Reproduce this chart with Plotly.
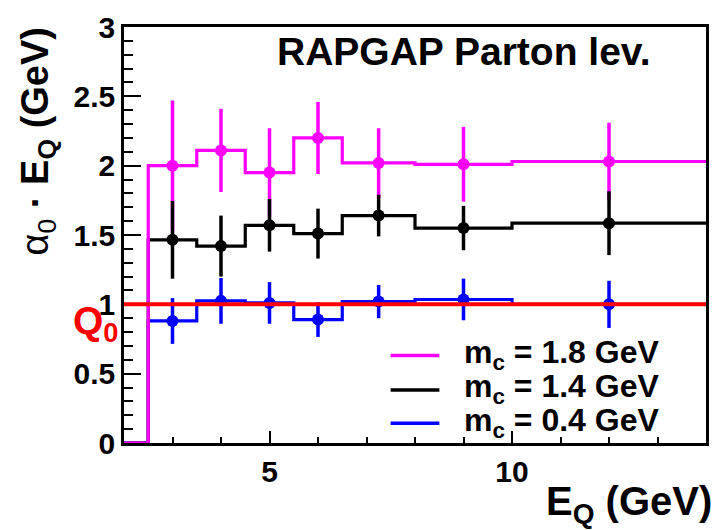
import plotly.graph_objects as go

# Bin edges in E_Q (GeV); first bin [2, 2.5] is empty
edges = [2.0, 2.5, 3.5, 4.5, 5.5, 6.5, 8.0, 10.0, 14.0]

series_names = ["m<sub>c</sub> = 1.8 GeV", "m<sub>c</sub> = 1.4 GeV", "m<sub>c</sub> = 0.4 GeV"]
series_colors = ["#ff00ff", "#000000", "#0000ff"]

# alpha_0 * E_Q per bin (GeV)
vals_18 = [0.0, 2.00, 2.11, 1.95, 2.20, 2.02, 2.01, 2.03]
vals_14 = [0.0, 1.465, 1.42, 1.57, 1.51, 1.64, 1.55, 1.585]
vals_04 = [0.0, 0.88, 1.025, 1.01, 0.89, 1.02, 1.035, 1.00]

# statistical errors for the filled bins
errs_18 = [0.47, 0.30, 0.32, 0.26, 0.25, 0.27, 0.28]
errs_14 = [0.28, 0.22, 0.19, 0.18, 0.15, 0.16, 0.23]
errs_04 = [0.165, 0.165, 0.15, 0.125, 0.12, 0.15, 0.17]

q0 = 1.0

x_ticks = [5, 10]
x_tick_text = ["5", "10"]
y_ticks = [0, 0.5, 1, 1.5, 2, 2.5, 3]
y_tick_text = ["0", "0.5", "1", "1.5", "2", "2.5", "3"]

all_vals = [vals_18, vals_14, vals_04]
all_errs = [errs_18, errs_14, errs_04]

centers = [(edges[i] + edges[i + 1]) / 2 for i in range(1, len(edges) - 1)]

fig = go.Figure()

# step outlines (blue, black, then magenta on top)
for k in [2, 1, 0]:
    v = all_vals[k]
    fig.add_trace(go.Scatter(
        x=edges, y=v + [v[-1]], mode="lines",
        line=dict(color=series_colors[k], width=3.2, shape="hv"),
        name=series_names[k], showlegend=False, hoverinfo="skip"))

# markers with error bars (magenta, black, blue)
for k in [0, 1, 2]:
    fig.add_trace(go.Scatter(
        x=centers, y=all_vals[k][1:], mode="markers",
        marker=dict(color=series_colors[k], size=12, symbol="circle"),
        error_y=dict(type="data", array=all_errs[k], color=series_colors[k],
                     thickness=3.5, width=0),
        showlegend=False, name=series_names[k]))

# reference line Q0
fig.add_shape(type="line", xref="paper", x0=0, x1=1, yref="y", y0=q0, y1=q0,
              line=dict(color="#ff0000", width=4), layer="above")

FONT = "Liberation Sans, Arial, Helvetica, sans-serif"

# helpers converting pixel positions inside the frame to paper coords
L, R, T, B = 124, 709, 20, 443
def px(x):
    return (x - L) / (R - L)
def py(y):
    return (B - y) / (B - T)

ann = []
ann.append(dict(text="<b>RAPGAP Parton lev.</b>", x=px(466), y=py(45),
                xref="paper", yref="paper", xanchor="center", yanchor="middle",
                showarrow=False,
                font=dict(family=FONT, size=39, color="black")))
ann.append(dict(text="<b>E<sub>Q</sub> (GeV)</b>", x=px(717), y=py(478),
                xref="paper", yref="paper", xanchor="right", yanchor="top",
                showarrow=False, font=dict(family=FONT, size=40, color="black")))
ann.append(dict(text="α<sub>0</sub> <b>· E<sub>Q</sub> (GeV)</b>", x=px(38), y=py(18),
                xref="paper", yref="paper", xanchor="center", yanchor="top",
                textangle=-90, showarrow=False,
                font=dict(family=FONT, size=38, color="black")))
ann.append(dict(text="<b>Q<sub>0</sub></b>", x=px(121), y=py(321),
                xref="paper", yref="paper", xanchor="right", yanchor="middle",
                showarrow=False, font=dict(family=FONT, size=39, color="#ff0000")))

# legend block
leg_rows = [354, 389, 423]
for k in range(3):
    fig.add_shape(type="line", xref="paper", yref="paper",
                  x0=px(392), x1=px(441), y0=py(leg_rows[k]), y1=py(leg_rows[k]),
                  line=dict(color=series_colors[k], width=3.5))
    ann.append(dict(text="<b>" + series_names[k] + "</b>", x=px(464), y=py(leg_rows[k] - 1),
                    xref="paper", yref="paper", xanchor="left", yanchor="middle",
                    showarrow=False, font=dict(family=FONT, size=32, color="black")))

fig.update_layout(
    width=719, height=530,
    margin=dict(l=L, r=719 - R, t=T, b=530 - B, pad=0),
    paper_bgcolor="white", plot_bgcolor="white",
    showlegend=False,
    annotations=ann,
    font=dict(family=FONT, color="black"),
)

TICKFONT = dict(family="Liberation Sans", size=30, color="black", weight=700)

fig.update_xaxes(
    range=[2, 14], tickvals=x_ticks, ticktext=x_tick_text,
    ticks="inside", ticklen=12, tickwidth=2, tickcolor="black",
    minor=dict(dtick=1, ticks="inside", ticklen=6, tickwidth=2, tickcolor="black"),
    showline=True, linecolor="black", linewidth=2.5, mirror=True,
    showgrid=False, zeroline=False,
    tickfont=TICKFONT,
)
fig.update_yaxes(
    range=[0, 3], tickvals=y_ticks, ticktext=y_tick_text,
    ticks="inside", ticklen=17, tickwidth=2, tickcolor="black",
    minor=dict(dtick=0.1, ticks="inside", ticklen=9, tickwidth=2, tickcolor="black"),
    showline=True, linecolor="black", linewidth=2.5, mirror=True,
    showgrid=False, zeroline=False,
    tickfont=TICKFONT,
)

fig.write_html("out.html")
